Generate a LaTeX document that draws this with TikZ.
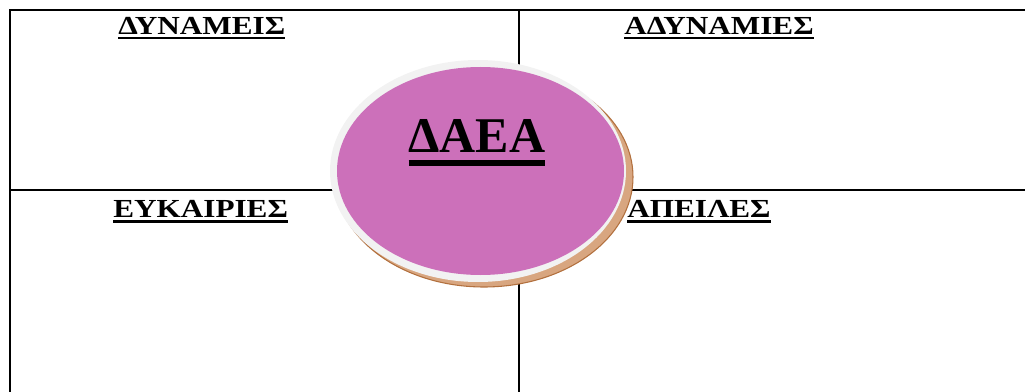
\documentclass[tikz,border=0pt]{standalone}
\usepackage{fontspec}
\setmainfont{Liberation Serif}
\newfontfamily\hdrfont[FakeStretch=1.2]{Liberation Serif}
\usetikzlibrary{shapes.geometric}

\definecolor{orchidfill}{RGB}{204,112,186}
\definecolor{rimgray}{RGB}{242,242,242}
\definecolor{shadowtan}{RGB}{216,166,128}
\definecolor{shadowedge}{RGB}{178,112,62}

% underlined text: depth, thickness, text
\newcommand{\ultext}[3]{\setbox0=\hbox{#3}\rlap{\rule[-#1]{\wd0}{#2}}\box0}

\tikzset{
  gridline/.style={line width=1.5pt, line cap=rect},
  hdrlabel/.style={anchor=base west, inner sep=0pt,
    font=\hdrfont\bfseries\fontsize{19.5pt}{21pt}\selectfont},
}

\begin{document}
\begin{tikzpicture}[x=0.75pt, y=-0.75pt]
  \useasboundingbox (0,0) rectangle (1025,392);

  % Table lines
  \draw[gridline] (10,400) -- (10,10) -- (1030,10);
  \draw[gridline] (10,190) -- (1030,190);
  \draw[gridline] (519,10) -- (519,400);

  % Headers
  \node[hdrlabel] (strengths) at (118,34.3) {\ultext{3.75pt}{1.95pt}{ΔΥΝΑΜΕΙΣ}};
  \node[hdrlabel] (weaknesses) at (624,34.3) {\ultext{3.75pt}{1.95pt}{ΑΔΥΝΑΜΙΕΣ}};
  \node[hdrlabel] (opportunities) at (113,217.5) {\ultext{3.75pt}{1.95pt}{ΕΥΚΑΙΡΙΕΣ}};
  \node[hdrlabel] (threats) at (627,218) {\ultext{3.75pt}{1.95pt}{ΑΠΕΙΛΕΣ}};

  % Central ellipse: shadow, rim, fill
  \node[ellipse, minimum width=223.5pt, minimum height=165pt, inner sep=0pt,
    fill=shadowtan, draw=shadowedge, line width=0.8pt] (shadow) at (484,177) {};
  \node[ellipse, minimum width=222pt, minimum height=166.5pt, inner sep=0pt,
    fill=rimgray] (rim) at (478,171) {};
  \node[ellipse, minimum width=215.25pt, minimum height=156pt, inner sep=0pt,
    fill=orchidfill] (hub) at (480.5,171) {};

  % Title
  \node[anchor=base, inner sep=0pt, font=\bfseries\fontsize{37.5pt}{40pt}\selectfont]
    (title) at (477,153) {\ultext{9.75pt}{4.5pt}{ΔΑΕΑ}};

\end{tikzpicture}
\end{document}
